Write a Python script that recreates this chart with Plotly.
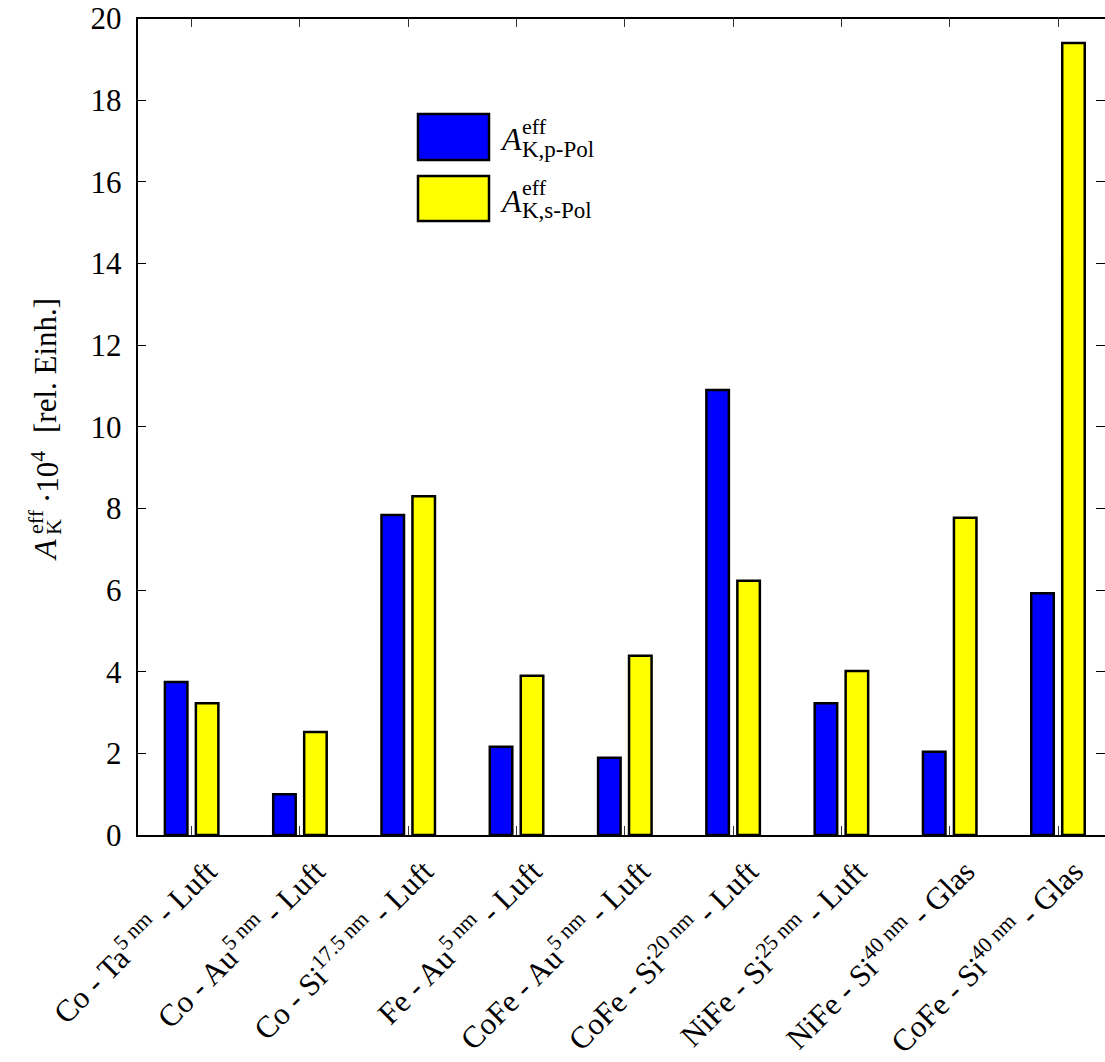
import plotly.graph_objects as go

# Samples (layer stack - capping - ambient medium)
samples = [
    "Co - Ta<sup>5 nm</sup> - Luft",
    "Co - Au<sup>5 nm</sup> - Luft",
    "Co - Si<sup>17.5 nm</sup> - Luft",
    "Fe - Au<sup>5 nm</sup> - Luft",
    "CoFe - Au<sup>5 nm</sup> - Luft",
    "CoFe - Si<sup>20 nm</sup> - Luft",
    "NiFe - Si<sup>25 nm</sup> - Luft",
    "NiFe - Si<sup>40 nm</sup> - Glas",
    "CoFe - Si<sup>40 nm</sup> - Glas",
]
# Effective Kerr amplitude (x 1e4), p- and s-polarised
a_p_pol = [3.75, 1.00, 7.84, 2.16, 1.89, 10.90, 3.23, 2.04, 5.92]
a_s_pol = [3.23, 2.52, 8.30, 3.90, 4.39, 6.23, 4.02, 7.77, 19.40]

y_ticks = [0, 2, 4, 6, 8, 10, 12, 14, 16, 18, 20]

W, H = 1105, 1062
FONT = "Liberation Serif"
BLUE = "#0000FF"
YELLOW = "#FFFF00"


def px(x):
    return x / W


def py(y):
    return 1 - y / H


fig = go.Figure()
fig.add_trace(go.Bar(x=samples, y=a_p_pol, name="p-Pol",
                     marker=dict(color=BLUE, line=dict(color="black", width=2.5))))
fig.add_trace(go.Bar(x=samples, y=a_s_pol, name="s-Pol",
                     marker=dict(color=YELLOW, line=dict(color="black", width=2.5))))

axis_font = dict(family=FONT, size=31, color="black")

fig.update_layout(
    width=W, height=H,
    margin=dict(l=0, r=0, t=0, b=0, autoexpand=False),
    paper_bgcolor="white", plot_bgcolor="white",
    barmode="group", bargap=0.428, bargroupgap=0.273,
    showlegend=False,
    font=dict(family=FONT, color="black"),
    xaxis=dict(
        domain=[px(137.5), 1.0],
        range=[-0.5, 8.434],
        type="category", automargin=False,
        showline=True, linecolor="black", linewidth=1.5, mirror="ticks",
        ticks="inside", ticklen=9, tickcolor="#333", tickwidth=1,
        tickangle=-45, tickfont=axis_font,
        ticklabelshift=16, ticklabelstandoff=4,
        showgrid=False, zeroline=False,
    ),
    yaxis=dict(
        domain=[py(835), py(18.5)],
        range=[0, 20], automargin=False,
        tickvals=y_ticks, ticktext=[str(v) for v in y_ticks],
        showline=True, linecolor="black", linewidth=1.5, mirror="ticks",
        ticks="inside", ticklen=9, tickcolor="black", tickwidth=1,
        tickfont=axis_font, ticklabelstandoff=8,
        showgrid=False, zeroline=False,
    ),
)

# Legend: swatches plus stacked super/subscript labels
legend_rows = [(BLUE, 114, 160, "K,p-Pol"), (YELLOW, 176, 221, "K,s-Pol")]
for color, y0, y1, sub in legend_rows:
    fig.add_shape(type="rect", xref="paper", yref="paper",
                  x0=px(418), x1=px(489), y0=py(y1), y1=py(y0),
                  fillcolor=color, line=dict(color="black", width=2.5))
    yc = (y0 + y1) / 2
    fig.add_annotation(xref="paper", yref="paper", x=px(498), y=py(yc + 2),
                       xanchor="left", yanchor="middle", showarrow=False,
                       text="<i>A</i>", font=dict(family=FONT, size=32))
    fig.add_annotation(xref="paper", yref="paper", x=px(520), y=py(yc - 11),
                       xanchor="left", yanchor="middle", showarrow=False,
                       text="eff", font=dict(family=FONT, size=22))
    fig.add_annotation(xref="paper", yref="paper", x=px(520), y=py(yc + 12),
                       xanchor="left", yanchor="middle", showarrow=False,
                       text=sub, font=dict(family=FONT, size=23))

# Y-axis title, built from rotated pieces so the sub/superscript stack
ytitle_parts = [
    ("<i>A</i>", 45, 550, 32),
    ("eff", 35, 522, 22),
    ("K", 53, 527, 22),
    ("·10<sup>4</sup>", 45, 477, 31),
    ("[rel. Einh.]", 45, 366, 31),
]
for text, x, y, size in ytitle_parts:
    fig.add_annotation(xref="paper", yref="paper", x=px(x), y=py(y),
                       xanchor="center", yanchor="middle", showarrow=False,
                       textangle=-90, text=text,
                       font=dict(family=FONT, size=size))

fig.write_html("out.html")
